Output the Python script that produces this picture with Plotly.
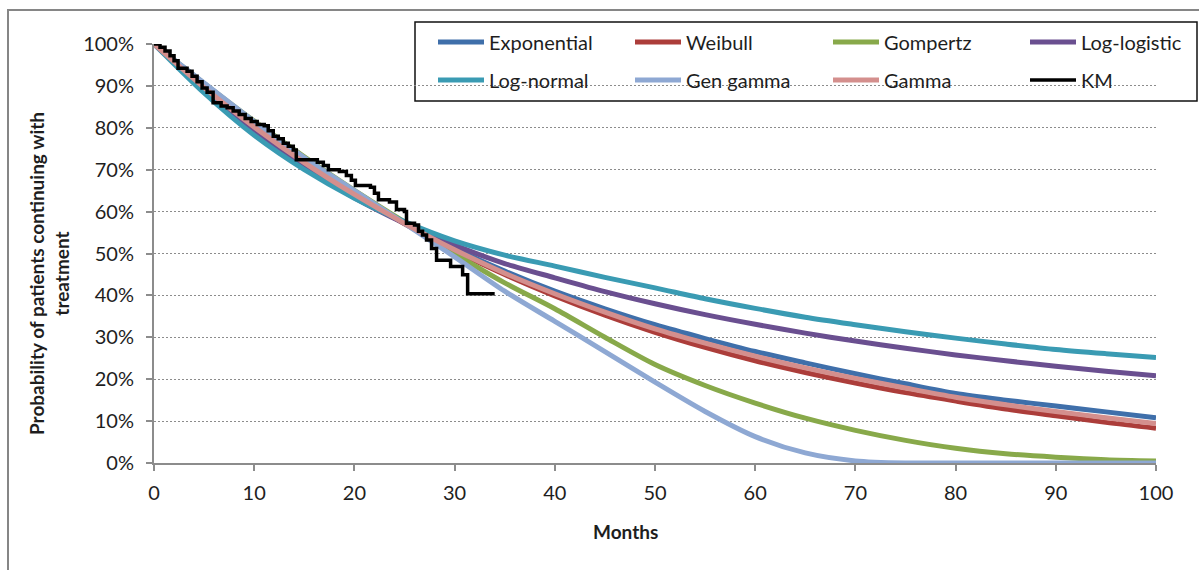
import plotly.graph_objects as go

months = [0, 5, 10, 15, 20, 25, 30, 35, 40, 45, 50, 55, 60, 65, 70, 75, 80, 85, 90, 95, 100]

exponential = [100, 89.4, 80.0, 71.6, 64.0, 57.3, 51.2, 45.8, 41.0, 36.8, 33.0, 29.7, 26.6, 23.9, 21.3, 18.9, 16.6, 15.0, 13.6, 12.2, 10.8]
weibull = [100, 89.8, 80.4, 71.8, 64.1, 57.1, 50.7, 45.0, 39.9, 35.3, 31.2, 27.6, 24.4, 21.6, 19.1, 16.8, 14.8, 12.9, 11.3, 9.7, 8.3]
gompertz = [100, 90.6, 81.6, 73.1, 65.1, 57.5, 50.0, 43.0, 36.8, 30.0, 23.5, 18.5, 14.3, 10.7, 7.8, 5.4, 3.5, 2.2, 1.4, 0.8, 0.5]
log_logistic = [100, 89.2, 79.4, 70.7, 63.3, 57.2, 52.0, 47.6, 44.2, 40.9, 38.0, 35.4, 33.1, 31.0, 29.1, 27.4, 25.8, 24.4, 23.1, 21.9, 20.8]
log_normal = [100, 88.3, 78.2, 70.0, 63.2, 57.6, 53.0, 49.6, 47.0, 44.3, 41.8, 39.2, 36.9, 34.8, 33.0, 31.3, 29.8, 28.4, 27.1, 26.1, 25.2]
gen_gamma = [100, 90.7, 81.5, 72.9, 65.0, 57.2, 49.2, 41.0, 33.8, 26.6, 19.3, 12.3, 6.3, 2.4, 0.5, 0, 0, 0, 0, 0, 0]
gamma = [100, 89.6, 80.2, 71.7, 64.1, 57.2, 50.9, 45.3, 40.4, 36.0, 32.0, 28.6, 25.5, 22.7, 20.2, 17.9, 15.7, 13.9, 12.3, 10.8, 9.4]

km_months = [0, 0.6, 1.1, 1.6, 2.0, 2.4, 3.3, 3.8, 4.3, 4.8, 5.3, 5.9, 6.7, 7.3, 7.9, 8.5,
             9.1, 9.7, 10.3, 11.0, 11.4, 11.9, 12.4, 12.9, 13.4, 13.9, 14.2, 16.3, 16.9, 17.4,
             18.5, 19.2, 19.7, 20.1, 21.6, 22.0, 22.4, 23.5, 24.2, 25.0, 25.2, 26.0, 26.4,
             26.8, 27.2, 27.7, 28.2, 29.6, 30.8, 31.3, 34.0]
km_surv = [100, 99.2, 98.3, 97.2, 96.0, 94.2, 93.5, 92.3, 91.0, 89.5, 88.5, 86.0, 85.2, 84.8, 84.0, 83.2,
           82.2, 81.5, 80.8, 80.5, 79.3, 78.0, 77.4, 76.3, 75.6, 74.7, 72.4, 71.8, 71.0, 70.0,
           69.6, 68.6, 67.5, 66.2, 65.8, 64.4, 62.8, 62.3, 60.5, 60.0, 57.2, 56.8, 55.3,
           54.4, 53.2, 51.2, 48.4, 46.9, 44.9, 40.4, 40.4]

y_ticks = [0, 10, 20, 30, 40, 50, 60, 70, 80, 90, 100]
y_tick_labels = ["0%", "10%", "20%", "30%", "40%", "50%", "60%", "70%", "80%", "90%", "100%"]
x_ticks = [0, 10, 20, 30, 40, 50, 60, 70, 80, 90, 100]

series = [
    ("Exponential", exponential, "#3F6FAA"),
    ("Weibull", weibull, "#AC3D3A"),
    ("Gompertz", gompertz, "#88A94A"),
    ("Log-logistic", log_logistic, "#6A4F90"),
    ("Log-normal", log_normal, "#3A9BB3"),
    ("Gen gamma", gen_gamma, "#8EA8D3"),
    ("Gamma", gamma, "#D48F8D"),
]

FONT = "Lato"
W, H = 1199, 570
L, R, T, B = 154, 43, 44, 107
PW, PH = W - L - R, H - T - B

def px_x(p):
    return (p - L) / PW

def px_y(p):
    return (H - B - p) / PH

legend_ids = ["legend"] + ["legend%d" % i for i in range(2, 9)]
col_px = [433, 630, 828, 1025]
row_px = [42, 80]

fig = go.Figure()
for i, (name, vals, col) in enumerate(series):
    fig.add_trace(go.Scatter(x=months, y=vals, name=name, mode="lines", showlegend=True,
                             line=dict(color=col, width=5, shape="spline", smoothing=0.8),
                             legend=legend_ids[i]))
fig.add_trace(go.Scatter(x=km_months, y=km_surv, name="KM", mode="lines", showlegend=True,
                         line=dict(color="black", width=3.5, shape="hv"), legend=legend_ids[7]))

legends = {}
for i, lid in enumerate(legend_ids):
    legends[lid] = dict(orientation="v", x=px_x(col_px[i % 4]), xanchor="left",
                        y=px_y(row_px[i // 4]), yanchor="middle", visible=True,
                        bgcolor="rgba(0,0,0,0)", font=dict(size=20, family=FONT, color="#1E1E1E"),
                        itemwidth=46, borderwidth=0)

grid = "#8C8C8C"
fig.update_layout(
    width=W, height=H,
    showlegend=True,
    margin=dict(l=L, r=R, t=T, b=B, autoexpand=False),
    paper_bgcolor="white", plot_bgcolor="white",
    font=dict(family=FONT, size=20, color="#1E1E1E"),
    xaxis=dict(range=[0, 100], tickvals=x_ticks, showgrid=False, zeroline=False,
               showline=True, linecolor=grid, linewidth=2, ticks="outside", ticklen=6,
               tickcolor=grid, tickwidth=2, tickfont=dict(size=20), ticklabelstandoff=5),
    yaxis=dict(range=[0, 100], tickvals=y_ticks, ticktext=y_tick_labels, showgrid=True,
               gridcolor=grid, gridwidth=1, griddash="2px,2px", zeroline=False,
               showline=True, linecolor=grid, linewidth=2, ticks="outside", ticklen=6,
               tickcolor=grid, tickwidth=2, tickfont=dict(size=20), ticklabelstandoff=8),
    shapes=[
        dict(type="rect", xref="paper", yref="paper", x0=px_x(8), x1=px_x(1260),
             y0=px_y(640), y1=px_y(10), line=dict(color="#868686", width=2), fillcolor="rgba(0,0,0,0)",
             layer="below"),
        dict(type="rect", xref="paper", yref="paper", x0=px_x(415), x1=px_x(1197),
             y0=px_y(101), y1=px_y(22), line=dict(color="#111111", width=1.5), fillcolor="white",
             layer="between"),
    ],
    annotations=[
        dict(text="<b>Probability of patients continuing with<br>treatment</b>", textangle=-90,
             xref="paper", yref="paper", x=px_x(49), y=px_y(274), xanchor="center", yanchor="middle",
             showarrow=False, font=dict(size=19, family=FONT, color="#1E1E1E")),
        dict(text="<b>Months</b>", xref="paper", yref="paper", x=px_x(625), y=px_y(531),
             xanchor="center", yanchor="middle", showarrow=False,
             font=dict(size=19, family=FONT, color="#1E1E1E")),
    ],
    **legends,
)

fig.write_html("out.html")
